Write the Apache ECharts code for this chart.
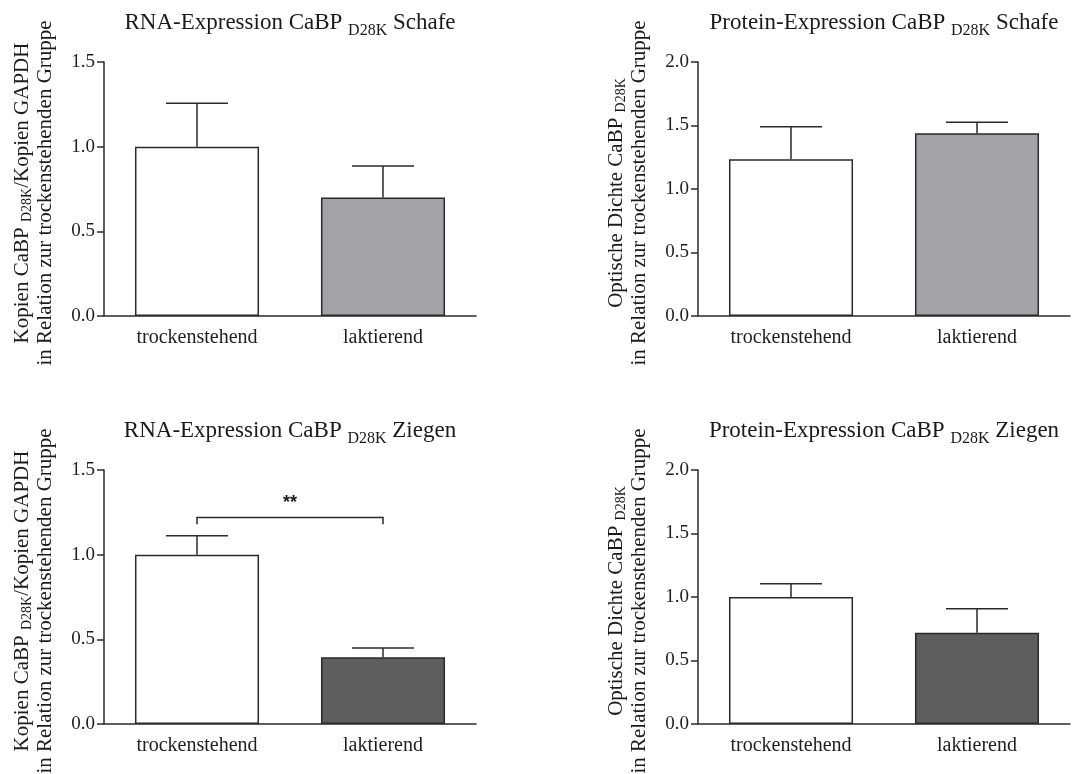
<!DOCTYPE html>
<html>
<head>
<meta charset="utf-8">
<script src="https://cdn.jsdelivr.net/npm/echarts@6/dist/echarts.min.js"></script>
<style>
html,body{margin:0;padding:0;background:#fff;}
#main{width:1084px;height:774px;}
</style>
</head>
<body>
<div id="main"></div>
<script>
// ---------- data ----------
const categories = ['trockenstehend', 'laktierend'];

const rnaSheepMean = [1.00, 0.70];
const rnaSheepErr = [0.256, 0.186];

const proteinSheepMean = [1.234, 1.438];
const proteinSheepErr = [0.256, 0.087];

const rnaGoatMean = [1.00, 0.394];
const rnaGoatErr = [0.112, 0.055];

const proteinGoatMean = [1.00, 0.719];
const proteinGoatErr = [0.105, 0.189];

const rnaTicks = [0, 0.5, 1.0, 1.5];
const proteinTicks = [0, 0.5, 1.0, 1.5, 2.0];

// significance bracket (RNA goats): from category 0 to 1, top level, leg end, label
const sigFrom = [0];
const sigTo = [1];
const sigTop = [1.22];
const sigLeg = [1.18];
const sigLabel = ['**'];

const titles = [
  ['RNA-Expression CaBP ', 'D28K', ' Schafe'],
  ['Protein-Expression CaBP ', 'D28K', ' Schafe'],
  ['RNA-Expression CaBP ', 'D28K', ' Ziegen'],
  ['Protein-Expression CaBP ', 'D28K', ' Ziegen']
];
const yNamesLine1 = [
  ['Kopien CaBP ', 'D28K', '/Kopien GAPDH'],
  ['Optische Dichte CaBP ', 'D28K', ''],
  ['Kopien CaBP ', 'D28K', '/Kopien GAPDH'],
  ['Optische Dichte CaBP ', 'D28K', '']
];
const yNameLine2 = 'in Relation zur trockenstehenden Gruppe';

// ---------- styling / layout ----------
const FONT = '"Liberation Serif", "Times New Roman", serif';
const INK = '#2a2a2a';
const lightGray = '#a3a3a7';
const darkGray = '#5e5e5e';
const panelColors = [
  ['#ffffff', lightGray],
  ['#ffffff', lightGray],
  ['#ffffff', darkGray],
  ['#ffffff', darkGray]
];
const grids = [
  {left: 104, top: 62, width: 372, height: 254},
  {left: 698, top: 62, width: 372, height: 254},
  {left: 104, top: 470, width: 372, height: 254},
  {left: 698, top: 470, width: 372, height: 254}
];
const means = [rnaSheepMean, proteinSheepMean, rnaGoatMean, proteinGoatMean];
const errs = [rnaSheepErr, proteinSheepErr, rnaGoatErr, proteinGoatErr];
const yMax = [1.5, 2.0, 1.5, 2.0];

const chart = echarts.init(document.getElementById('main'), null, {renderer: 'canvas'});

const xAxes = [], yAxes = [], series = [], graphics = [];

grids.forEach((g, i) => {
  xAxes.push({
    type: 'category', gridIndex: i, data: categories,
    axisLine: {show: true, lineStyle: {color: INK, width: 1.5}},
    axisTick: {show: false},
    axisLabel: {fontFamily: FONT, fontSize: 20, color: '#1e1e1e', margin: 12}
  });
  yAxes.push({
    type: 'value', gridIndex: i, min: 0, max: yMax[i], interval: 0.5,
    axisLine: {show: true, lineStyle: {color: INK, width: 1.5}},
    axisTick: {show: true, length: 7, lineStyle: {color: INK, width: 1.5}},
    splitLine: {show: false},
    axisLabel: {fontFamily: FONT, fontSize: 19, color: '#1e1e1e', margin: 9,
      formatter: v => v.toFixed(1)}
  });
  series.push({
    type: 'bar', xAxisIndex: i, yAxisIndex: i,
    barWidth: '66.7%',
    data: means[i].map((v, k) => ({value: v, itemStyle: {color: panelColors[i][k]}})),
    itemStyle: {borderColor: INK, borderWidth: 1.5},
    silent: true, z: 2
  });
  series.push({
    type: 'custom', xAxisIndex: i, yAxisIndex: i,
    data: means[i].map((v, k) => [k, v, errs[i][k]]),
    encode: {x: 0, y: 1},
    z: 3, silent: true,
    renderItem: function (params, api) {
      const x = api.value(0), m = api.value(1), e = api.value(2);
      const base = api.coord([x, m]);
      const top = api.coord([x, m + e]);
      const hw = api.size([1, 0])[0] / 6;
      const st = {stroke: INK, lineWidth: 1.5};
      return {type: 'group', children: [
        {type: 'line', shape: {x1: base[0], y1: base[1], x2: top[0], y2: top[1]}, style: st},
        {type: 'line', shape: {x1: top[0] - hw, y1: top[1], x2: top[0] + hw, y2: top[1]}, style: st}
      ]};
    }
  });

  // title
  const t = titles[i];
  graphics.push({
    type: 'text', x: g.left + g.width / 2, y: g.top - 39, z: 10,
    style: {
      text: '{n|' + t[0] + '}{s|' + t[1] + '}{n|' + t[2] + '}',
      align: 'center', verticalAlign: 'middle',
      textAlign: 'center', textVerticalAlign: 'middle',
      rich: {
        n: {fontFamily: FONT, fontSize: 23, lineHeight: 28, fill: '#1a1a1a'},
        s: {fontFamily: FONT, fontSize: 16, lineHeight: 4, padding: [16, 0, 0, 0], fill: '#1a1a1a'}
      }
    }
  });
  // y-axis name
  const y1 = yNamesLine1[i];
  let l1 = '{n|' + y1[0] + '}{s|' + y1[1] + '}';
  if (y1[2]) l1 += '{n|' + y1[2] + '}';
  graphics.push({
    type: 'text', x: g.left - 70, y: g.top + g.height / 2 + 4, rotation: Math.PI / 2, z: 10,
    style: {
      text: l1 + '\n{n|' + yNameLine2 + '}',
      align: 'center', verticalAlign: 'middle',
      textAlign: 'center', textVerticalAlign: 'middle',
      rich: {
        n: {fontFamily: FONT, fontSize: 21, lineHeight: 23, fill: '#1a1a1a'},
        s: {fontFamily: FONT, fontSize: 14, lineHeight: 4, padding: [10, 0, 0, 0], fill: '#1a1a1a'}
      }
    }
  });
});

// significance bracket on RNA goats panel (index 2)
series.push({
  type: 'custom', xAxisIndex: 2, yAxisIndex: 2,
  data: sigFrom.map((f, k) => [f, sigTo[k], sigTop[k], sigLeg[k]]),
  encode: {x: 0, y: 2},
  z: 4, silent: true,
  renderItem: function (params, api) {
    const a = api.value(0), b = api.value(1), top = api.value(2), leg = api.value(3);
    const p0 = api.coord([a, leg]), p1 = api.coord([a, top]);
    const p2 = api.coord([b, top]), p3 = api.coord([b, leg]);
    const lbl = sigLabel[params.dataIndex];
    return {type: 'group', children: [
      {type: 'polyline', shape: {points: [p0, p1, p2, p3]}, style: {stroke: INK, lineWidth: 1.5, fill: null}},
      {type: 'text', x: (p1[0] + p2[0]) / 2, y: p1[1] - 14,
        style: {text: lbl, font: 'bold 18px "Liberation Sans", Arial, sans-serif', fill: '#1a1a1a',
          align: 'center', verticalAlign: 'middle', textAlign: 'center', textVerticalAlign: 'middle'}}
    ]};
  }
});

chart.setOption({
  animation: false,
  backgroundColor: '#ffffff',
  grid: grids.map(g => Object.assign({containLabel: false}, g)),
  xAxis: xAxes,
  yAxis: yAxes,
  series: series,
  graphic: graphics
});
</script>
</body>
</html>
